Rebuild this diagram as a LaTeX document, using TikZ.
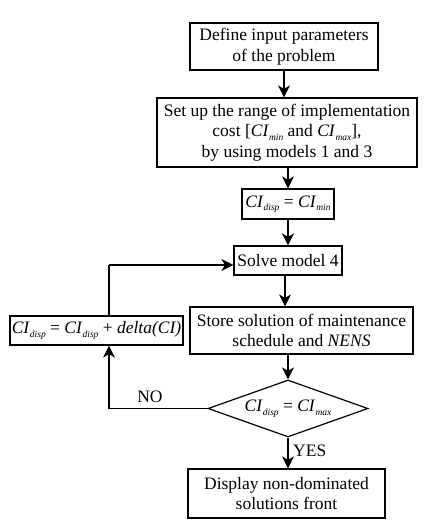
\documentclass[tikz,border=0pt]{standalone}
\usepackage{fontspec}
\setmainfont{Liberation Serif}
\usetikzlibrary{arrows.meta,shapes.geometric}
\newcommand{\sbx}[1]{\raisebox{-0.2em}{\fontsize{9.5}{10}\selectfont\itshape #1}}
\newcommand{\CI}{\textit{CI}}
\begin{document}
\begin{tikzpicture}[x=1pt,y=-1pt,
  every node/.style={font=\fontsize{17.5}{20.7}\selectfont},
  box/.style={draw,line width=1.2pt,align=center,inner sep=0pt,anchor=center},
  arr/.style={line width=1.2pt,-{Stealth[length=12pt,width=12pt,inset=3.5pt]}},
  lbl/.style={inner sep=0pt}]
\useasboundingbox (0,0) rectangle (441,522);
\node[box,minimum width=188pt,minimum height=47pt] (b1) at (284,46.5) {Define input parameters\\of the problem};
\node[box,minimum width=260pt,minimum height=69pt] (b2) at (287,132.5) {Set up the range of implementation\\cost [\CI\sbx{min} and \CI\sbx{max}],\\by using models 1 and 3};
\node[box,minimum width=92pt,minimum height=30pt] (b3) at (288,204) {\CI\sbx{disp} = \CI\sbx{min}};
\node[box,minimum width=108pt,minimum height=29pt] (solve) at (288,260.5) {Solve model 4};
\node[box,minimum width=173pt,minimum height=29pt] (left) at (96.5,330.5) {\CI\sbx{disp} = \CI\sbx{disp} + \textit{delta(CI)}};
\node[box,minimum width=223pt,minimum height=47pt] (store) at (301.5,330.5) {Store solution of maintenance\\schedule and \textit{NENS}};
\node[draw,line width=1.2pt,diamond,aspect=2.8,inner sep=0pt,minimum width=160pt,minimum height=57pt] (dia) at (288,408.5) {\CI\sbx{disp} = \CI\sbx{max}};
\node[box,minimum width=197pt,minimum height=49pt] (disp) at (286.5,493.5) {Display non-dominated\\solutions front};
\coordinate (c1) at (109,408.5);
\coordinate (c2) at (109,265);
\draw[arr] (b1.south) -- (b1.south |- b2.north);
\draw[arr] (b2.south -| b3.north) -- (b3.north);
\draw[arr] (b3.south) -- (b3.south |- solve.north);
\draw[arr] (solve.south -| 285,0) -- (285,0 |- store.north);
\draw[arr] (dia.north |- store.south) -- (dia.north);
\draw[arr] (dia.south) -- (dia.south |- disp.north);
\draw[line width=1.2pt] (dia.west) -- (c1);
\draw[arr] (c1) -- (c1 |- left.south);
\draw[line width=1.2pt] (c1 |- left.north) -- (c2);
\draw[arr] (c2) -- (c2 -| solve.west);
\node[lbl] (no) at (150,397) {NO};
\node[lbl,anchor=west] (yes) at (293,451) {YES};
\end{tikzpicture}
\end{document}
